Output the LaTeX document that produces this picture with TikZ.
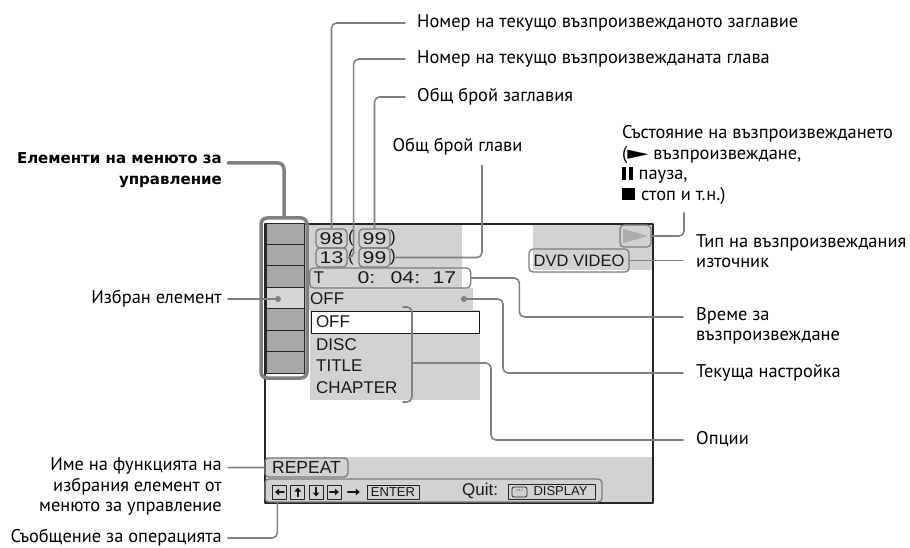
\documentclass[tikz,border=0pt]{standalone}
\usepackage{fontspec}
\setmainfont{PT Sans}
\newfontfamily\osd{Liberation Sans}
\newfontfamily\osdnum[FakeStretch=1.25]{Liberation Sans}
\newfontfamily\symb{DejaVu Sans}
\newfontfamily\heavy{DejaVu Sans}
\usetikzlibrary{arrows.meta}
\definecolor{osdgray}{RGB}{210,210,210}
\definecolor{cellgray}{RGB}{168,168,168}
\definecolor{selgray}{RGB}{214,214,214}
\definecolor{linegray}{RGB}{128,128,128}
\definecolor{boxgray}{RGB}{125,125,125}
\begin{document}
\begin{tikzpicture}[x=1pt, y=-1pt, line join=round, line cap=round,
	lbl/.style={inner sep=0pt, font=\fontsize{18.4}{20.5}\selectfont, execute at begin node=\strut},
	callout/.style={draw=linegray, line width=1.6pt, rounded corners=5pt},
	menuline/.style={draw=linegray, line width=3.5pt, rounded corners=6pt},
	osdbox/.style={draw=boxgray, line width=1.3pt, rounded corners=4pt, inner sep=0pt},
	osdtxt/.style={inner sep=0pt, text=black!90, font=\osd\fontsize{17}{17}\selectfont},
	numbox/.style={osdbox, minimum width=31pt, minimum height=19pt, text=black!90, font=\osdnum\fontsize{17}{17}\selectfont},
	keybox/.style={draw=black!85, line width=0.9pt, inner sep=0pt, minimum width=14pt, minimum height=14pt},
	keyarrow/.style={draw=black!90, line width=1.8pt, -{Triangle[length=4pt,width=6.5pt]}},
	dot/.style={circle, fill=linegray, inner sep=0pt, minimum size=6pt}]
	\useasboundingbox (0,0) rectangle (910,548);
	% screen
	\fill[osdgray] (307,224) rectangle (462,288);
	\fill[osdgray] (307,288) rectangle (473,310);
	\fill[osdgray] (310,310) rectangle (480,400);
	\fill[osdgray] (533,224) rectangle (653,270);
	\fill[osdgray] (265,457) rectangle (653,503);
	\draw[line width=1.8pt, black!85] (265,224) rectangle (653,503);
	% control menu items
	\foreach \i in {0,...,6}
		\draw[black!85, line width=0.8pt, fill=cellgray] (266,{223+21.43*\i}) rectangle (304,{223+21.43*(\i+1)});
	\draw[black!85, line width=0.8pt, fill=selgray] (266,{223+21.43*3}) rectangle (304,{223+21.43*4});
	\node[draw=linegray, line width=3.5pt, rounded corners=6pt, minimum width=46pt, minimum height=160pt, inner sep=0pt] (menu) at (284,298) {};
	\node[dot] (seldot) at (278,299) {};
	% numbers and time
	\node[numbox] (n98) at (331.5,238.5) {98};
	\node[osdtxt] (pa1) at (351,238.5) {(};
	\node[numbox] (n99a) at (374.5,238.5) {99};
	\node[osdtxt] (pb1) at (393,238.5) {)};
	\node[numbox] (n13) at (331.5,257.5) {13};
	\node[osdtxt] (pa2) at (351,257.5) {(};
	\node[numbox] (n99b) at (374.5,257.5) {99};
	\node[osdtxt] (pb2) at (393,257.5) {)};
	\node[osdbox, anchor=west, minimum height=20pt, text=black!90, font=\osdnum\fontsize{17}{17}\selectfont] (time) at (309,278)
		{\hspace{4pt}\makebox[157pt][l]{\rlap{\osd T}\hspace{44pt}\rlap{0:}\hspace{33pt}\rlap{04:}\hspace{42pt}17}};
	% setting and options
	\node[osdtxt, anchor=west] (curval) at (310,299) {OFF};
	\node[dot] (curdot) at (464,299) {};
	\node[draw=black!90, line width=1pt, fill=white, text width=158pt, align=left, inner xsep=5pt, inner ysep=0pt,
		minimum height=22pt, text=black!90, font=\osd\fontsize{17}{17}\selectfont] (optoff) at (395,322) {OFF};
	\node[osdtxt, anchor=west] (odisc) at (316,345) {DISC};
	\node[osdtxt, anchor=west] (otitle) at (316,366) {TITLE};
	\node[osdtxt, anchor=west] (ochap) at (316,388) {CHAPTER};
	\draw[callout] (403,307) -- (412,307) -- (412,402) -- (403,402);
	\coordinate (optbr) at (412,363);
	% status and source
	\fill[black!32] (623,229) -- (648,236) -- (623,243) -- cycle;
	\node[osdbox, minimum width=31pt, minimum height=22pt] (play) at (635.5,236) {};
	\node[osdbox, minimum width=100pt, minimum height=23pt, text=black!90, font=\osd\fontsize{16.5}{16.5}\selectfont] (dvd) at (579,260.5) {DVD VIDEO};
	% bottom lines
	\node[osdbox, minimum width=83pt, minimum height=19pt, text=black!90, font=\osd\fontsize{17.5}{17.5}\selectfont] (repeat) at (306.5,467.5) {REPEAT};
	\node[osdbox, minimum width=337pt, minimum height=23pt] (navbar) at (433.5,490.5) {};
	\foreach \i/\a in {0/180, 1/90, 2/270, 3/0} {
		\node[keybox] (key\i) at ({279.5+18.3*\i},492) {};
		\draw[keyarrow] (key\i.center) ++(\a+180:4.5pt) -- ++(\a:9pt);
	}
	\draw[keyarrow] ([xshift=6pt]key3.east) -- ++(12,0);
	\node[keybox, minimum width=52pt, text=black!90, font=\osd\fontsize{13}{13}\selectfont] (enter) at (393,492) {ENTER};
	\node[osdtxt, anchor=west] (quit) at (462,491) {Quit:};
	\node[keybox, minimum width=87pt, minimum height=15pt, text=black!90, font=\osd\fontsize{13}{13}\selectfont] (disp) at (551.5,491.5) {\hspace{18pt}DISPLAY};
	\draw[black!85, line width=0.8pt, rounded corners=2pt] (512,487) rectangle (527,497);
	\foreach \k in {0,1,2} \fill[black!85] ({517+2.5*\k},490) circle (0.7pt);
	% labels
	\node[lbl, anchor=west] (ttitle) at (417,23) {Номер на текущо възпроизвежданото заглавие};
	\node[lbl, anchor=west] (tchap) at (417,59) {Номер на текущо възпроизвежданата глава};
	\node[lbl, anchor=west] (ttot) at (417,97) {Общ брой заглавия};
	\node[lbl] (chtot) at (457.5,147) {Общ брой глави};
	\node[lbl, anchor=north west, align=left] (stat) at (622,125.2) {Състояние на възпроизвеждането\\
		(\scalebox{1.5}[1]{\symb ►} възпроизвеждане,\\
		\rule{4pt}{12pt}\hspace{2.5pt}\rule{4pt}{12pt}\hspace{6pt}пауза,\\
		\rule{13pt}{12pt}\hspace{6pt}стоп и т.н.)};
	\coordinate (statend) at (684,213);
	\node[lbl, anchor=north west, align=left] (srctype) at (696,234.2) {Тип на възпроизвеждания\\източник};
	\node[lbl, anchor=north west, align=left] (ptime) at (696,307.2) {Време за\\възпроизвеждане};
	\node[lbl, anchor=west] (curset) at (696,373) {Текуща настройка};
	\node[lbl, anchor=west] (opts) at (696,440) {Опции};
	\node[lbl, anchor=north east, align=right, font=\heavy\fontsize{15}{20.5}\selectfont\bfseries] (menuitems) at (222,152.8) {Елементи на менюто за\\управление};
	\node[lbl, anchor=east] (selitem) at (222,299) {Избран елемент};
	\node[lbl, anchor=north east, align=right] (funcname) at (222,457.8) {Име на функцията на\\избрания елемент от\\менюто за управление};
	\node[lbl, anchor=east] (opmsg) at (222,538) {Съобщение за операцията};
	% connectors
	\draw[callout] ([xshift=-12pt]ttitle.west) -| (n98.north);
	\draw[callout] ([xshift=-12pt]tchap.west) -| ([xshift=6pt]n13.east) -- (n13.east);
	\draw[callout] ([xshift=-12pt]ttot.west) -| (n99a.north);
	\draw[callout] ([xshift=24.5pt,yshift=-8pt]chtot.south) |- (pb2.east);
	\draw[callout] (statend) |- (play.east);
	\draw[callout] ([xshift=-13pt]srctype.west |- dvd.east) -- (dvd.east);
	\draw[callout] (time.east) -- ++(48,0) |- ([xshift=-13pt,yshift=-9.75pt]ptime.north west);
	\draw[callout] (curdot) -- ++(39,0) |- ([xshift=-13pt]curset.west);
	\draw[callout] (optbr) -- ++(79,0) |- ([xshift=-13pt]opts.west);
	\draw[callout] ([xshift=6pt]selitem.east) -- (seldot);
	\draw[callout] ([xshift=6pt,yshift=-9.75pt]funcname.north east) -- (repeat.west);
	\draw[callout] ([xshift=6pt]opmsg.east) -| ([xshift=13pt]navbar.south west);
	\draw[menuline] ([xshift=6pt,yshift=-10.2pt]menuitems.north east) -| (menu.north);
\end{tikzpicture}
\end{document}
